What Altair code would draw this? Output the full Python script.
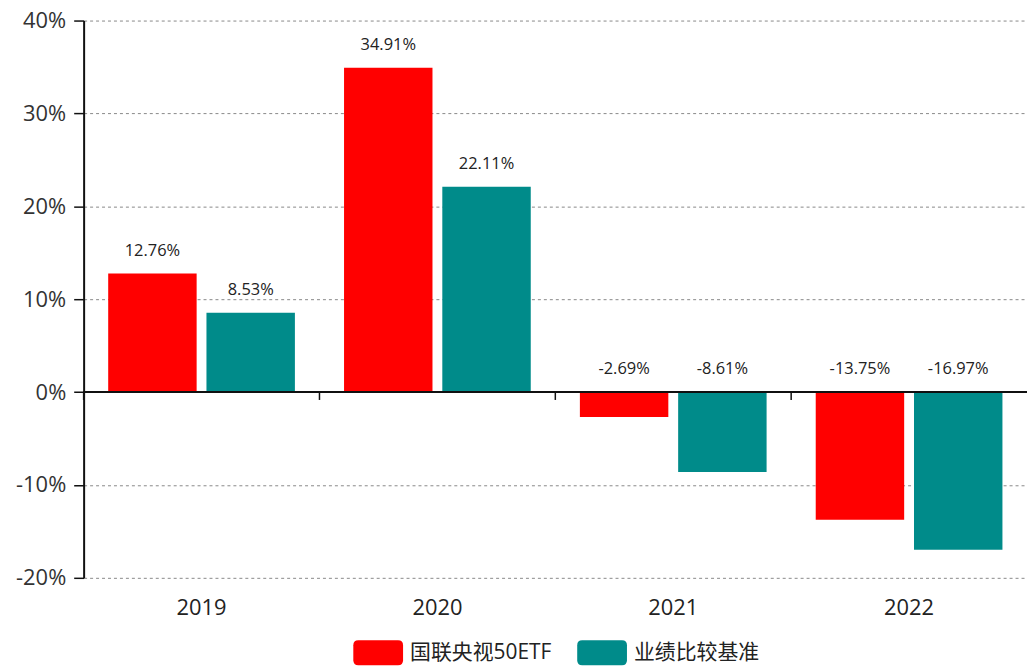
import altair as alt
import pandas as pd

years = ["2019", "2020", "2021", "2022"]
series = ["国联央视50ETF", "业绩比较基准"]
fund = [12.76, 34.91, -2.69, -13.75]
bench = [8.53, 22.11, -8.61, -16.97]
y_ticks = [-20, -10, 0, 10, 20, 30, 40]
colors = ["#FF0000", "#008B8A"]

rows = []
for i, y in enumerate(years):
    rows.append({"year": y, "series": series[0], "value": fund[i]})
    rows.append({"year": y, "series": series[1], "value": bench[i]})
df = pd.DataFrame(rows)
df["label"] = df["value"].map(lambda v: f"{v:.2f}%")
df["labely"] = df["value"].clip(lower=0)
years_df = pd.DataFrame({"year": years})

FONT = "Open Sans, Noto Sans CJK SC, sans-serif"

xscale = alt.Scale(domain=years, paddingInner=0, paddingOuter=0)
yscale = alt.Scale(domain=[-20, 40], nice=False, zero=False)
offscale = alt.Scale(domain=series, paddingInner=0.1, paddingOuter=0.25)

legend_path = ("M-0.8,-0.5 L0.8,-0.5 Q1,-0.5 1,-0.3 L1,0.3 Q1,0.5 0.8,0.5 "
               "L-0.8,0.5 Q-1,0.5 -1,0.3 L-1,-0.3 Q-1,-0.5 -0.8,-0.5 Z")

base = alt.Chart(df)

bars = base.mark_bar().encode(
    x=alt.X("year:N", scale=xscale, sort=years,
            axis=alt.Axis(title=None, domain=False, ticks=False, labelAngle=0,
                          labelFontSize=22, labelPadding=20, labelColor="#222",
                          labelFont=FONT, grid=False)),
    xOffset=alt.XOffset("series:N", scale=offscale, sort=series),
    y=alt.Y("value:Q", scale=yscale,
            axis=alt.Axis(title=None, values=y_ticks, labelExpr="datum.value + '%'",
                          grid=True, gridDash=[3, 3], gridColor="#888", gridWidth=1,
                          domainColor="#111", domainWidth=2, tickColor="#111",
                          tickSize=10, tickWidth=1.5, labelFontSize=22,
                          labelColor="#333", labelPadding=8, labelFont=FONT,
                          minExtent=76)),
    color=alt.Color("series:N", sort=series,
                    scale=alt.Scale(domain=series, range=colors),
                    legend=alt.Legend(title=None, orient="none", direction="horizontal",
                                      legendX=271, legendY=610,
                                      symbolType=legend_path, symbolSize=2500,
                                      symbolStrokeWidth=0, labelFontSize=21,
                                      labelFont=FONT, labelColor="#222",
                                      labelOffset=7, columnPadding=25, padding=0)),
)

labels = base.mark_text(fontSize=16.5, color="#222", font=FONT, dy=-23,
                        baseline="middle").encode(
    x=alt.X("year:N", scale=xscale, sort=years),
    xOffset=alt.XOffset("series:N", scale=offscale, sort=series),
    y=alt.Y("labely:Q", scale=yscale),
    text="label:N",
)

zero = alt.Chart(years_df).mark_rule(color="#111", strokeWidth=1.5).encode(
    y=alt.datum(0),
)

ticks = alt.Chart(years_df).mark_rule(color="#111", strokeWidth=1.5).encode(
    x=alt.X("year:N", scale=xscale, sort=years, bandPosition=0),
    y=alt.datum(0),
    y2=alt.datum(-0.85),
)

chart = alt.layer(bars, labels, zero, ticks).properties(
    width=948, height=560,
    padding={"left": 0, "top": 0, "right": 0, "bottom": 0},
).configure_view(stroke=None)

chart.save("out.html", embed_options={"renderer": "svg", "actions": False})
